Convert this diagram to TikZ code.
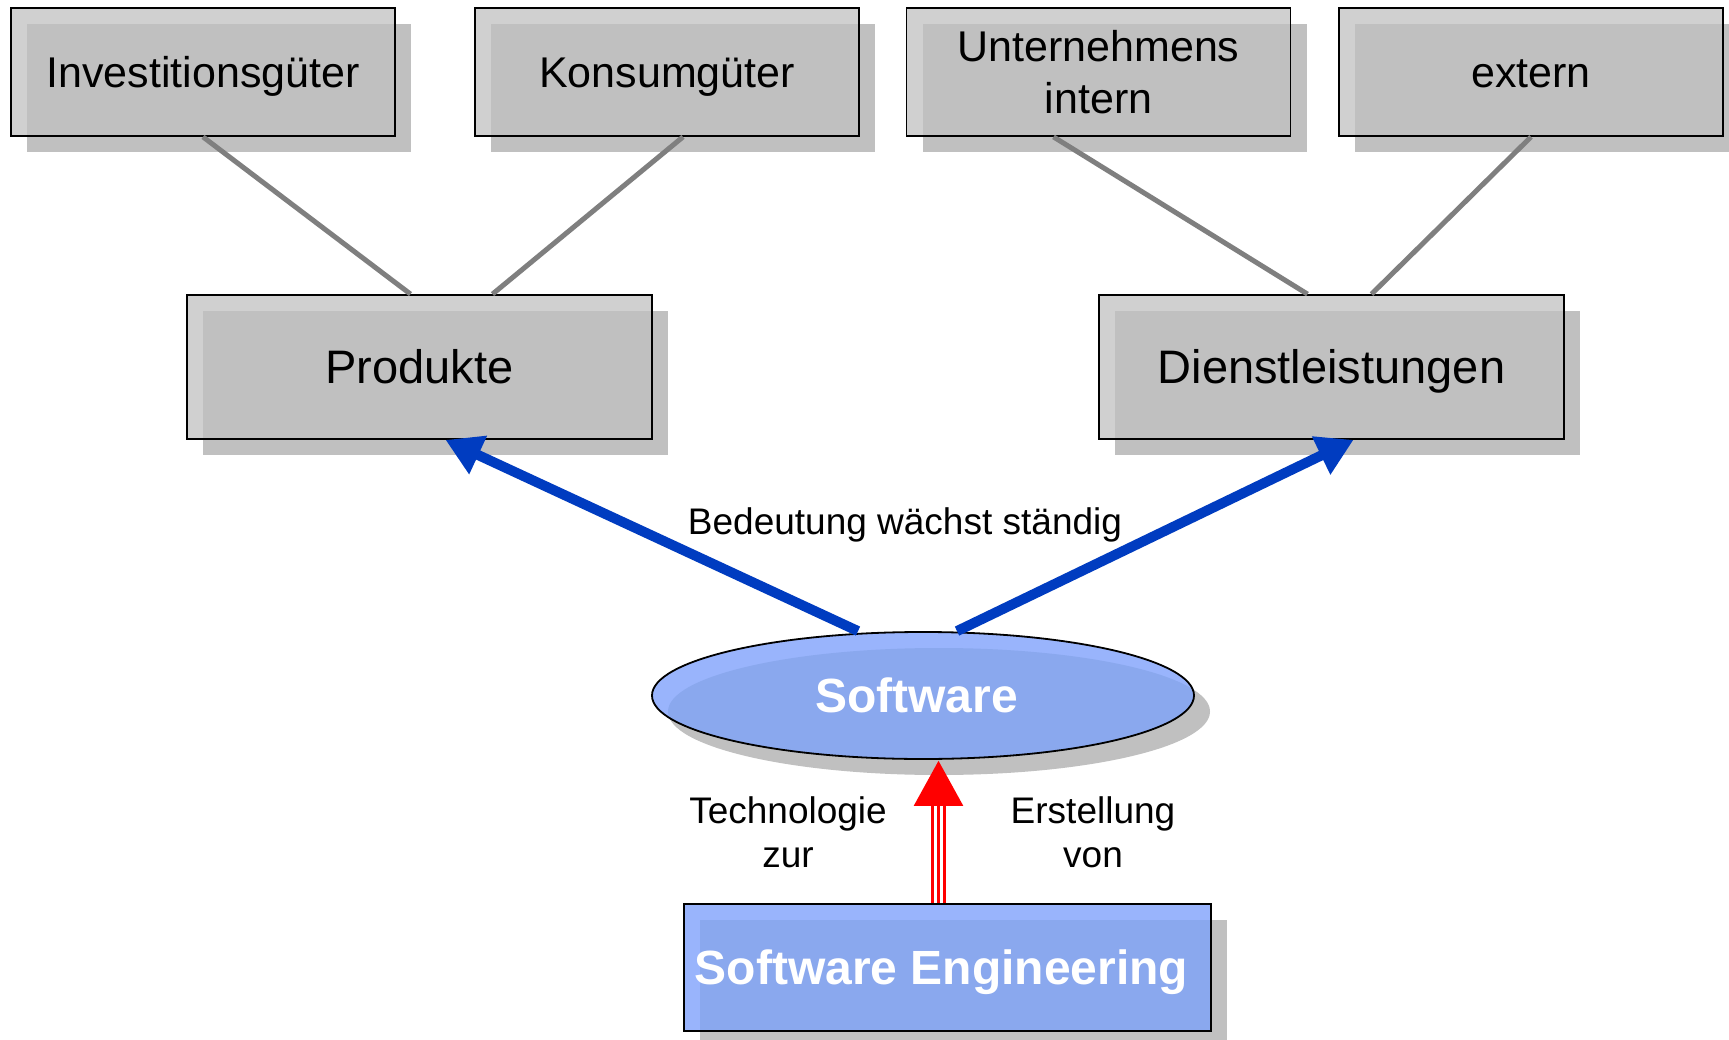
\documentclass[tikz,border=0pt]{standalone}
\usepackage{fontspec}
\setmainfont{Liberation Sans}
\usetikzlibrary{shapes.geometric,shadows,arrows.meta,calc}
\definecolor{boxlight}{HTML}{D0D0D0}
\definecolor{boxdark}{HTML}{C0C0C0}
\definecolor{bluelight}{HTML}{99B4FC}
\definecolor{bluedark}{HTML}{8AA8EE}
\definecolor{arrowblue}{HTML}{003CC0}
\definecolor{linegray}{HTML}{7F7F7F}
\begin{document}
\begin{tikzpicture}[x=1pt,y=-1pt,
  gbox/.style={draw=black, line width=1.8pt, fill=boxlight, rectangle, inner sep=0pt, align=center,
    drop shadow={shadow xshift=16pt, shadow yshift=-16pt, fill=boxdark, opacity=1},
    path picture={\fill[boxdark] ([shift={(16pt,-16pt)}]path picture bounding box.north west) rectangle ([shift={(16pt,-16pt)}]path picture bounding box.south east);}},
  topbox/.style={gbox, minimum width=384pt, minimum height=128pt, font=\fontsize{43}{52}\selectfont,
    text height=31pt, text depth=0pt},
  midbox/.style={gbox, minimum width=465pt, minimum height=144pt, font=\fontsize{47}{54}\selectfont,
    text height=34pt, text depth=0pt},
  swell/.style={ellipse, draw=black, line width=1.8pt, fill=bluelight, minimum width=542pt, minimum height=127pt,
    inner sep=0pt, text=white, font=\bfseries\fontsize{48}{55}\selectfont, text height=34.5pt, text depth=0pt,
    drop shadow={shadow xshift=16pt, shadow yshift=-16pt, fill=boxdark, opacity=1},
    path picture={\fill[bluedark] ([shift={(16pt,-16pt)}]path picture bounding box.center) ellipse [x radius=271pt, y radius=63.5pt];}},
  sebox/.style={rectangle, draw=black, line width=1.8pt, fill=bluelight, minimum width=527pt, minimum height=127pt,
    inner sep=0pt, text=white, font=\bfseries\fontsize{48}{55}\selectfont, text height=34.5pt, text depth=0pt,
    drop shadow={shadow xshift=16pt, shadow yshift=-16pt, fill=boxdark, opacity=1},
    path picture={\fill[bluedark] ([shift={(16pt,-16pt)}]path picture bounding box.north west) rectangle ([shift={(16pt,-16pt)}]path picture bounding box.south east);}},
  lab/.style={font=\fontsize{37}{44}\selectfont, align=center, inner sep=0pt},
  conn/.style={draw=linegray, line width=5pt},
  barrow/.style={draw=arrowblue, line width=10pt, -{Triangle[length=36pt,width=40pt]}}
]
\useasboundingbox[fill=white] (0,0) rectangle (1729,1040);

\node[topbox] (inv) at (203,72) {Investitionsgüter};
\node[topbox] (kon) at (667,72) {Konsumgüter};
\node[topbox, text height=83pt] (unt) at (1098.5,72) {Unternehmens\\intern};
\node[topbox] (ext) at (1531,72) {extern};
\node[midbox] (prod) at (419.5,367) {Produkte};
\node[midbox] (dl) at (1331.5,367) {Dienstleistungen};
\node[swell] (sw) at (923,695.5) {\hspace*{-13pt}Software};
\node[sebox] (se) at (947.5,967.5) {\hspace*{-12pt}Software Engineering};

\node[lab, text height=26.6pt, text depth=0pt] (bed) at (905,521) {Bedeutung wächst ständig};
\node[lab] (tech) at (788,832) {Technologie\\zur};
\node[lab] (erst) at (1093,832) {Erstellung\\von};

\draw[conn] (inv.south) -- ([xshift=-9pt]prod.north);
\draw[conn] ([xshift=16pt]kon.south) -- ([xshift=73pt]prod.north);
\draw[conn] ([xshift=-45pt]unt.south) -- ([xshift=-24pt]dl.north);
\draw[conn] (ext.south) -- ([xshift=40pt]dl.north);

\draw[barrow] ([xshift=-65pt]sw.north) -- ([xshift=26pt]prod.south);
\draw[barrow] ([xshift=34pt]sw.north) -- ([xshift=22pt]dl.south);

\coordinate (rs) at ([xshift=-9pt]se.north);
\draw[red, line width=14.5pt, -{Triangle[length=46pt,width=46pt]}] (rs) -- (rs |- sw.south);
\draw[white, line width=3pt] ([xshift=-3pt]rs) -- ++(0,-97);
\draw[white, line width=3pt] ([xshift=3pt]rs) -- ++(0,-97);
\end{tikzpicture}
\end{document}
